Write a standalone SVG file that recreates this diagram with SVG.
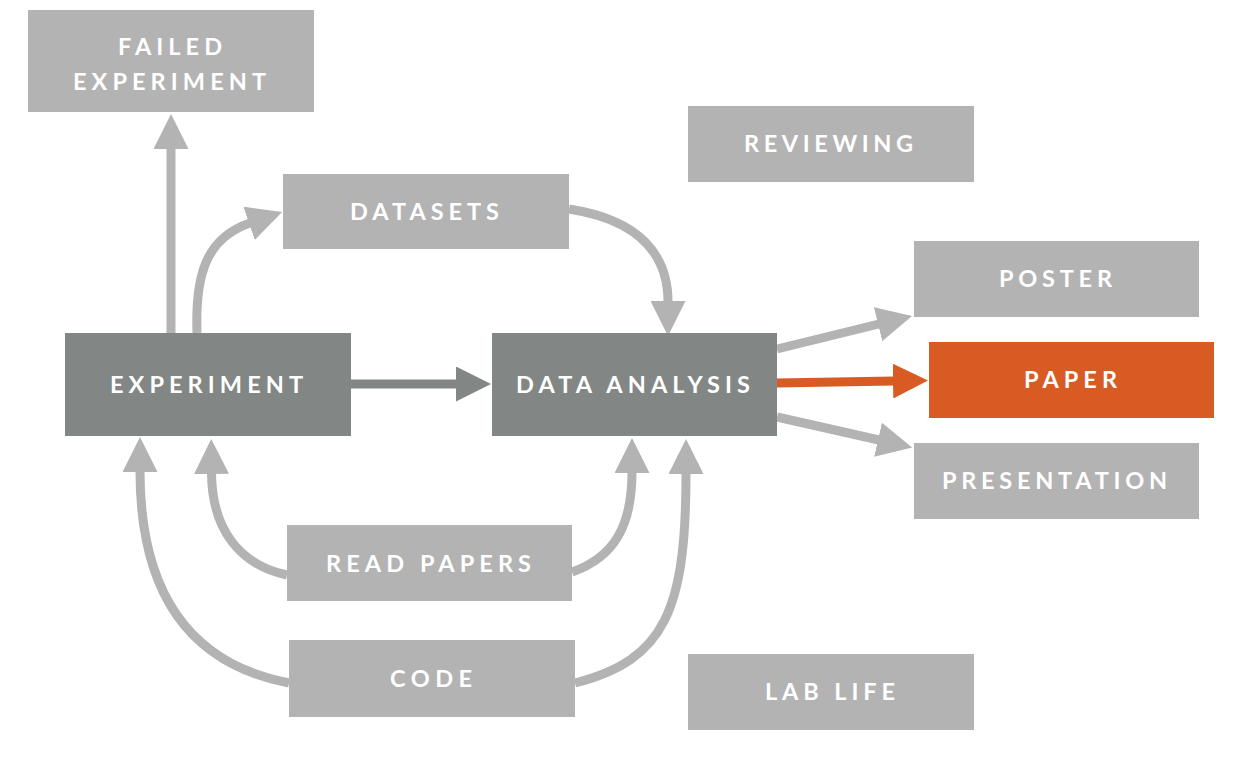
<svg xmlns="http://www.w3.org/2000/svg" width="1237" height="777" viewBox="0 0 1237 777">
  <style>
    .light { fill: #b3b3b3; }
    .dark { fill: #828785; }
    .accent { fill: #d95b24; }
    .label { font-family: "Lato", "Liberation Sans", sans-serif; font-weight: 700; font-size: 23.5px; fill: #ffffff; text-anchor: middle; }
    .c-light { fill: none; stroke: #b3b3b3; stroke-width: 9; }
    .c-dark { fill: none; stroke: #828785; stroke-width: 9; }
    .c-accent { fill: none; stroke: #d95b24; stroke-width: 9; }
  </style>
  <defs>
    <marker id="ah-light" markerUnits="userSpaceOnUse" markerWidth="35" markerHeight="35" viewBox="0 0 35 35" refX="1" refY="17.5" orient="auto">
      <path d="M0,0 L35,17.5 L0,35 z" fill="#b3b3b3"/>
    </marker>
    <marker id="ah-dark" markerUnits="userSpaceOnUse" markerWidth="35" markerHeight="35" viewBox="0 0 35 35" refX="1" refY="17.5" orient="auto">
      <path d="M0,0 L35,17.5 L0,35 z" fill="#828785"/>
    </marker>
    <marker id="ah-accent" markerUnits="userSpaceOnUse" markerWidth="35" markerHeight="35" viewBox="0 0 35 35" refX="1" refY="17.5" orient="auto">
      <path d="M0,0 L35,17.5 L0,35 z" fill="#d95b24"/>
    </marker>
  </defs>
  <rect width="1237" height="777" fill="#ffffff"/>

  <g id="connectors">
    <path class="c-light" d="M171,333 L171,148" marker-end="url(#ah-light)"/>
    <path class="c-light" d="M197,333 C195,275 206,238 250,223" marker-end="url(#ah-light)"/>
    <path class="c-light" d="M569,209 C640,220 668,255 668,302" marker-end="url(#ah-light)"/>
    <path class="c-dark" d="M351,384 L457,384" marker-end="url(#ah-dark)"/>
    <path class="c-light" d="M777,349 L879,324" marker-end="url(#ah-light)"/>
    <path class="c-accent" d="M777,383 L894,381" marker-end="url(#ah-accent)"/>
    <path class="c-light" d="M777,417 L879,440" marker-end="url(#ah-light)"/>
    <path class="c-light" d="M287,575 C240,565 212,530 211.5,473" marker-end="url(#ah-light)"/>
    <path class="c-light" d="M289,683 C195,665 140,600 140,471" marker-end="url(#ah-light)"/>
    <path class="c-light" d="M572,572 C615,557 632,525 632,472" marker-end="url(#ah-light)"/>
    <path class="c-light" d="M575,683 C665,660 686,610 686,473" marker-end="url(#ah-light)"/>
  </g>

  <g id="failed-experiment">
    <rect class="light" x="28" y="10" width="286" height="102"/>
    <text class="label" x="170" y="55" textLength="104" lengthAdjust="spacing">FAILED</text>
    <text class="label" x="169.5" y="90" textLength="193" lengthAdjust="spacing">EXPERIMENT</text>
  </g>
  <g id="reviewing">
    <rect class="light" x="688" y="106" width="286" height="76"/>
    <text class="label" x="828.5" y="152" textLength="169" lengthAdjust="spacing">REVIEWING</text>
  </g>
  <g id="datasets">
    <rect class="light" x="283" y="174" width="286" height="75"/>
    <text class="label" x="424.5" y="220" textLength="149" lengthAdjust="spacing">DATASETS</text>
  </g>
  <g id="poster">
    <rect class="light" x="914" y="241" width="285" height="76"/>
    <text class="label" x="1055.5" y="287" textLength="113" lengthAdjust="spacing">POSTER</text>
  </g>
  <g id="experiment">
    <rect class="dark" x="65" y="333" width="286" height="103"/>
    <text class="label" x="206.5" y="393" textLength="193" lengthAdjust="spacing">EXPERIMENT</text>
  </g>
  <g id="data-analysis">
    <rect class="dark" x="492" y="333" width="285" height="103"/>
    <text class="label" x="633" y="393" textLength="234" lengthAdjust="spacing">DATA ANALYSIS</text>
  </g>
  <g id="paper">
    <rect class="accent" x="929" y="342" width="285" height="76"/>
    <text class="label" x="1070.5" y="388" textLength="93" lengthAdjust="spacing">PAPER</text>
  </g>
  <g id="presentation">
    <rect class="light" x="914" y="443" width="285" height="76"/>
    <text class="label" x="1054.5" y="489" textLength="225" lengthAdjust="spacing">PRESENTATION</text>
  </g>
  <g id="read-papers">
    <rect class="light" x="287" y="525" width="285" height="76"/>
    <text class="label" x="428.5" y="572" textLength="205" lengthAdjust="spacing">READ PAPERS</text>
  </g>
  <g id="code">
    <rect class="light" x="289" y="640" width="286" height="77"/>
    <text class="label" x="431" y="687" textLength="82" lengthAdjust="spacing">CODE</text>
  </g>
  <g id="lab-life">
    <rect class="light" x="688" y="654" width="286" height="76"/>
    <text class="label" x="830" y="700" textLength="130" lengthAdjust="spacing">LAB LIFE</text>
  </g>
</svg>
